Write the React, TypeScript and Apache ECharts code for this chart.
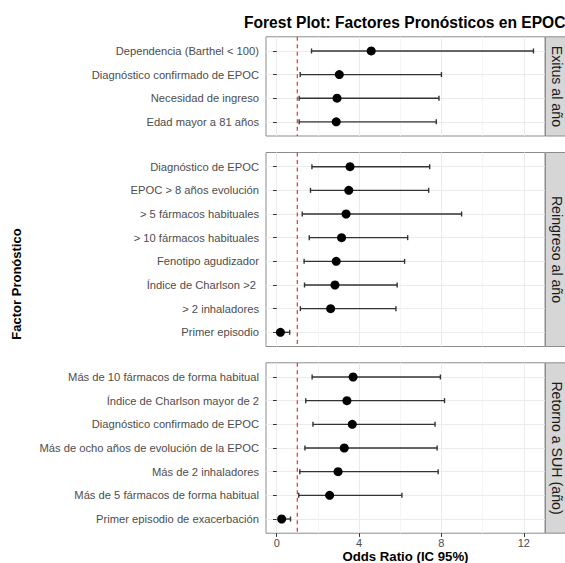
import React, { useEffect, useRef } from "react";
import * as echarts from "echarts";

// ---------- data ----------
const chartTitle = "Forest Plot: Factores Pronósticos en EPOC";
const xAxisTitle = "Odds Ratio (IC 95%)";
const yAxisTitle = "Factor Pronóstico";
const panelNames = ["Exitus al año", "Reingreso al año", "Retorno a SUH (año)"];

const exitusFactors = [
  "Dependencia (Barthel < 100)",
  "Diagnóstico confirmado de EPOC",
  "Necesidad de ingreso",
  "Edad mayor a 81 años",
];
const exitusOR = [4.59, 3.04, 2.93, 2.89];
const exitusLower = [1.69, 1.14, 1.09, 1.09];
const exitusUpper = [12.47, 8.0, 7.88, 7.75];

const reingresoFactors = [
  "Diagnóstico de EPOC",
  "EPOC > 8 años evolución",
  "> 5 fármacos habituales",
  "> 10 fármacos habituales",
  "Fenotipo agudizador",
  "Índice de Charlson >2 ",
  "> 2 inhaladores",
  "Primer episodio",
];
const reingresoOR = [3.56, 3.5, 3.37, 3.15, 2.89, 2.83, 2.62, 0.18];
const reingresoLower = [1.71, 1.64, 1.24, 1.58, 1.33, 1.35, 1.15, 0.1];
const reingresoUpper = [7.43, 7.38, 8.98, 6.36, 6.21, 5.85, 5.79, 0.63];

const retornoFactors = [
  "Más de 10 fármacos de forma habitual",
  "Índice de Charlson mayor de 2",
  "Diagnóstico confirmado de EPOC",
  "Más de ocho años de evolución de la EPOC",
  "Más de 2 inhaladores",
  "Más de 5 fármacos de forma habitual",
  "Primer episodio de exacerbación",
];
const retornoOR = [3.71, 3.41, 3.67, 3.28, 2.98, 2.57, 0.24];
const retornoLower = [1.72, 1.41, 1.76, 1.37, 1.12, 1.07, 0.1];
const retornoUpper = [7.95, 8.15, 7.69, 7.79, 7.84, 6.08, 0.67];

const xTicks = [0, 4, 8, 12];
const xMinorTicks = [2, 6, 10];
const referenceOR = [1];
const xMin = -0.52;
const xMax = 13.03;

// ---------- layout ----------
const FONT = '"Liberation Sans", Arial, Helvetica, sans-serif';
const PANEL_LEFT = 266;
const PANEL_RIGHT = 545;
const panelTops = [36.8, 152.5, 362.8];
const panelHeights = [99.2, 194, 170.4];
const REF_RED = "#ff2a2a";

const panels = [
  { name: panelNames[0], factors: exitusFactors, or: exitusOR, lo: exitusLower, hi: exitusUpper },
  { name: panelNames[1], factors: reingresoFactors, or: reingresoOR, lo: reingresoLower, hi: reingresoUpper },
  { name: panelNames[2], factors: retornoFactors, or: retornoOR, lo: retornoLower, hi: retornoUpper },
];

export default function App() {
  const ref = useRef<HTMLDivElement>(null);

  useEffect(() => {
    const chart = echarts.init(ref.current!, null, { renderer: "svg" });

    const grids: any[] = [];
    const xAxes: any[] = [];
    const yAxes: any[] = [];
    const series: any[] = [];
    const graphics: any[] = [];
    const n = panels.length;

    panels.forEach((p, i) => {
      const rows = p.factors.length;
      const isLast = i === n - 1;
      grids.push({
        left: PANEL_LEFT,
        top: panelTops[i],
        width: PANEL_RIGHT - PANEL_LEFT,
        height: panelHeights[i],
        show: true,
        backgroundColor: "#ffffff",
        borderColor: "#8c8c8c",
        borderWidth: 1,
        containLabel: false,
        outerBoundsMode: "none",
      });
      xAxes.push({
        type: "value",
        gridIndex: i,
        min: xMin,
        max: xMax,
        position: "bottom",
        axisLine: { show: false },
        axisTick: {
          show: isLast,
          customValues: xTicks,
          length: 3.7,
          lineStyle: { color: "#333333", width: 1 },
        },
        axisLabel: {
          show: isLast,
          customValues: xTicks,
          margin: 4.5,
          fontSize: 11,
          color: "#4d4d4d",
          fontFamily: FONT,
        },
        splitLine: { show: true, lineStyle: { color: "#ebebeb", width: 1 } },
        name: isLast ? xAxisTitle : "",
        nameLocation: "middle",
        nameGap: 16.5,
        nameMoveOverlap: false,
        nameTextStyle: {
          fontSize: 13.2,
          fontWeight: "bold",
          color: "#000000",
          fontFamily: FONT,
        },
      });
      yAxes.push({
        type: "value",
        gridIndex: i,
        inverse: true,
        min: 0.4,
        max: rows + 0.6,
        axisLine: { show: false },
        axisTick: {
          show: true,
          customValues: p.factors.map((_, k) => k + 1),
          length: 3.7,
          lineStyle: { color: "#333333", width: 1 },
        },
        axisLabel: {
          show: true,
          customValues: p.factors.map((_, k) => k + 1),
          formatter: (v: number) => p.factors[Math.round(v) - 1] ?? "",
          margin: 7,
          fontSize: 11.2,
          color: "#4d4d4d",
          fontFamily: FONT,
          hideOverlap: false,
        },
        splitLine: { show: true, lineStyle: { color: "#ebebeb", width: 1 } },
      });

      // reference line at OR = 1 (full panel height)
      series.push({
        type: "custom",
        xAxisIndex: i,
        yAxisIndex: i,
        z: 2,
        silent: true,
        encode: { x: 0 },
        data: referenceOR.map((v) => [v]),
        renderItem: (params: any, api: any) => {
          const cs = params.coordSys;
          const x = api.coord([api.value(0), 1])[0];
          return {
            type: "line",
            shape: { x1: x, y1: cs.y, x2: x, y2: cs.y + cs.height },
            style: { stroke: REF_RED, lineWidth: 1.2, lineDash: [4, 3.5], fill: "none" },
          };
        },
      });

      // error bars
      series.push({
        type: "custom",
        xAxisIndex: i,
        yAxisIndex: i,
        z: 3,
        encode: { x: [0, 1], y: 2 },
        data: p.factors.map((_, k) => [p.lo[k], p.hi[k], k + 1]),
        renderItem: (_params: any, api: any) => {
          const y = api.value(2);
          const a = api.coord([api.value(0), y]);
          const b = api.coord([api.value(1), y]);
          const h = 2.5;
          const style = { stroke: "#333333", lineWidth: 1.4 };
          return {
            type: "group",
            children: [
              { type: "line", shape: { x1: a[0], y1: a[1], x2: b[0], y2: b[1] }, style },
              { type: "line", shape: { x1: a[0], y1: a[1] - h, x2: a[0], y2: a[1] + h }, style },
              { type: "line", shape: { x1: b[0], y1: b[1] - h, x2: b[0], y2: b[1] + h }, style },
            ],
          };
        },
      });
      // points
      series.push({
        type: "scatter",
        xAxisIndex: i,
        yAxisIndex: i,
        z: 4,
        symbol: "circle",
        symbolSize: 9,
        itemStyle: { color: "#000000", opacity: 1 },
        data: p.factors.map((_, k) => [p.or[k], k + 1]),
      });

      // strip
      const top = panelTops[i];
      const h = panelHeights[i];
      graphics.push({
        type: "rect",
        shape: { x: PANEL_RIGHT + 0.5, y: top, width: 40, height: h },
        style: { fill: "#d6d6d6", stroke: "#8c8c8c", lineWidth: 1 },
        z: 10,
      });
      graphics.push({
        type: "text",
        x: 556.5,
        y: top + h / 2,
        rotation: -Math.PI / 2,
        style: {
          text: p.name,
          fontSize: 14.2,
          fontFamily: FONT,
          fill: "#1a1a1a",
          textAlign: "center",
          textVerticalAlign: "middle",
        },
        z: 11,
      });
    });

    // minor vertical grid lines (second x axis per panel)
    panels.forEach((_, i) => {
      xAxes.push({
        type: "value",
        gridIndex: i,
        min: xMin,
        max: xMax,
        position: "top",
        axisLine: { show: false },
        axisTick: { show: false, customValues: xMinorTicks },
        axisLabel: { show: false, customValues: xMinorTicks },
        splitLine: { show: true, lineStyle: { color: "#f2f2f2", width: 0.8 } },
      });
    });

    graphics.push({
      type: "text",
      x: 16,
      y: 284,
      rotation: Math.PI / 2,
      style: {
        text: yAxisTitle,
        fontSize: 13,
        fontWeight: "bold",
        fontFamily: FONT,
        fill: "#000000",
        textAlign: "center",
        textVerticalAlign: "middle",
      },
    });

    chart.setOption({
      animation: false,
      backgroundColor: "#ffffff",
      title: {
        text: chartTitle,
        left: 244,
        top: 14,
        padding: 0,
        textStyle: {
          fontSize: 15.6,
          fontWeight: "bold",
          color: "#000000",
          fontFamily: FONT,
        },
      },
      grid: grids,
      xAxis: xAxes,
      yAxis: yAxes,
      series,
      graphic: graphics,
    });

    return () => chart.dispose();
  }, []);

  return (
    <div
      ref={ref}
      style={{ position: "fixed", left: 0, top: 0, width: 565, height: 563, background: "#fff" }}
    />
  );
}
